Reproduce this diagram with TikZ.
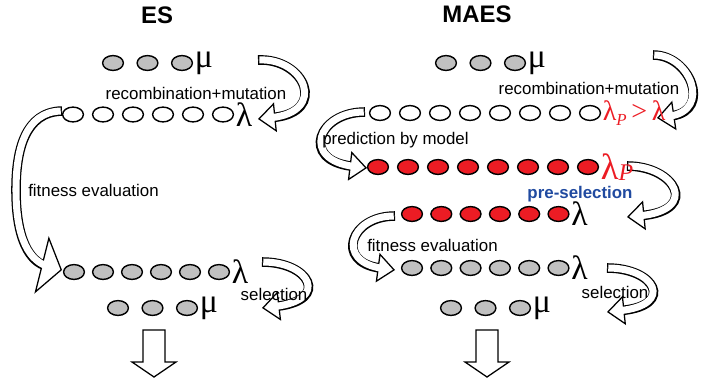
\documentclass[tikz,border=0pt]{standalone}
\usepackage{fontspec}
\setmainfont{Liberation Sans}
\newfontfamily\grk{Liberation Serif}
\usepackage{xcolor}
\usetikzlibrary{arrows.meta,positioning,calc,shapes.geometric}
\definecolor{indgrey}{RGB}{192,192,192}
\definecolor{predred}{RGB}{236,28,36}
\definecolor{preblue}{RGB}{32,74,160}
\tikzset{
  ind/.style={ellipse, draw=black, fill=#1, line width=1pt,
              minimum width=0.52cm, minimum height=0.37cm, inner sep=0pt},
  ind/.default=white,
  greek/.style={font=\grk\fontsize{24}{24}\selectfont, inner sep=0pt},
  txt/.style={font=\fontsize{12}{14}\selectfont, inner sep=0pt},
  ttl/.style={font=\bfseries\fontsize{17}{20}\selectfont, inner sep=0pt},
  band/.style={line width=6.8pt, shorten >=11pt},
  bandin/.style={white, line width=5pt, shorten >=9pt, shorten <=0.9pt},
  blockdn/.style={draw=black, fill=white, line width=0.9pt, line join=miter},
}
\newcommand{\indrow}[6]{%
  \foreach \i in {1,...,#2}
    \node[ind=#6] (#1\i) at ({#3+(\i-1)*#4}, #5) {};}
\newcommand{\bendarrow}[2][]{%
  \draw[band] #2;
  \draw[white, line width=0.2pt,
        -{Triangle[length=12.5pt, width=21pt, #1, fill=white, color=black, line width=0.9pt]}] #2;
  \draw[bandin] #2;}

\begin{document}
\begin{tikzpicture}[x=0.025cm, y=-0.025cm]
  \useasboundingbox (0,0) rectangle (709,382);
  % bent block arrows, ES
  \bendarrow{(258,60) .. controls (305,58) and (328,112) .. (258,119)}
  \bendarrow[length=15pt, width=42pt]{(62,111) .. controls (25,112) and (16,150) .. (16,190)
    .. controls (16,240) and (30,262) .. (62,270)}
  \bendarrow{(262,262) .. controls (310,262) and (330,300) .. (262,308)}
  % bent block arrows, MAES
  \bendarrow{(653,55) .. controls (690,55) and (712,110) .. (657,118)}
  \bendarrow{(365,112) .. controls (318,112) and (300,160) .. (367,168)}
  \bendarrow{(627,166) .. controls (675,166) and (700,210) .. (627,217)}
  \bendarrow{(395,216) .. controls (350,216) and (335,262) .. (395,270)}
  \bendarrow{(607,268) .. controls (655,268) and (675,305) .. (607,312)}

  % ES
  \node[ttl] (es) at (157,15) {ES};
  \indrow{esmu}{3}{113}{34.5}{63}{indgrey}
  \node[greek, right=1pt of esmu3] (esmul) {μ};
  \node[txt] (esrm) at (196,93) {recombination+mutation};
  \indrow{eslam}{6}{73}{30}{114.5}{white}
  \node[greek, right=1pt of eslam6] (eslaml) {λ};
  \node[txt, anchor=west] (esfe) at (28,190) {fitness evaluation};
  \indrow{esfit}{6}{74}{29}{272}{indgrey}
  \node[greek, right=1pt of esfit6] (esfitl) {λ};
  \node[txt] (essel) at (274,294) {selection};
  \indrow{esnew}{3}{118}{34.5}{308}{indgrey}
  \node[greek, right=1pt of esnew3] (esnewl) {μ};

  % MAES
  \node[ttl] (maes) at (477,14) {MAES};
  \indrow{mamu}{3}{446}{34.5}{63}{indgrey}
  \node[greek, right=1pt of mamu3] (mamul) {μ};
  \node[txt] (marm) at (589,88) {recombination+mutation};
  \indrow{malamp}{8}{380}{30}{113}{white}
  \node[greek, text=predred, font=\grk\fontsize{20}{20}\selectfont, right=1pt of malamp8] (malampl)
    {λ\raisebox{-0.35ex}{\fontsize{12}{12}\selectfont\itshape P}\,>\,λ};
  \node[txt, anchor=west] (mapm) at (322,140) {prediction by model};
  \indrow{mapred}{8}{378}{30}{167}{predred}
  \node[greek, text=predred, font=\grk\fontsize{26}{26}\selectfont, right=1pt of mapred8] (mapredl)
    {λ\raisebox{-0.1ex}{\fontsize{17}{17}\selectfont\itshape P}};
  \node[txt, font=\bfseries\fontsize{12}{14}\selectfont, text=preblue] (maps) at (580,194) {pre-selection};
  \indrow{masel}{6}{412}{29.3}{214}{predred}
  \node[greek, right=1pt of masel6] (masell) {λ};
  \node[txt, anchor=west] (mafe) at (367,245) {fitness evaluation};
  \indrow{mafit}{6}{412}{29.3}{268}{indgrey}
  \node[greek, right=1pt of mafit6] (mafitl) {λ};
  \node[txt] (masl) at (615,292) {selection};
  \indrow{manew}{3}{451}{34.5}{308}{indgrey}
  \node[greek, right=1pt of manew3] (manewl) {μ};

  % downward block arrows
  \foreach \cx in {154,487} {
    \begin{scope}[shift={(\cx,330)}]
      \draw[blockdn] (-11,0) -- (11,0) -- (11,32) -- (22,32) -- (0,47) -- (-22,32) -- (-11,32) -- cycle;
    \end{scope}
  }
\end{tikzpicture}
\end{document}
